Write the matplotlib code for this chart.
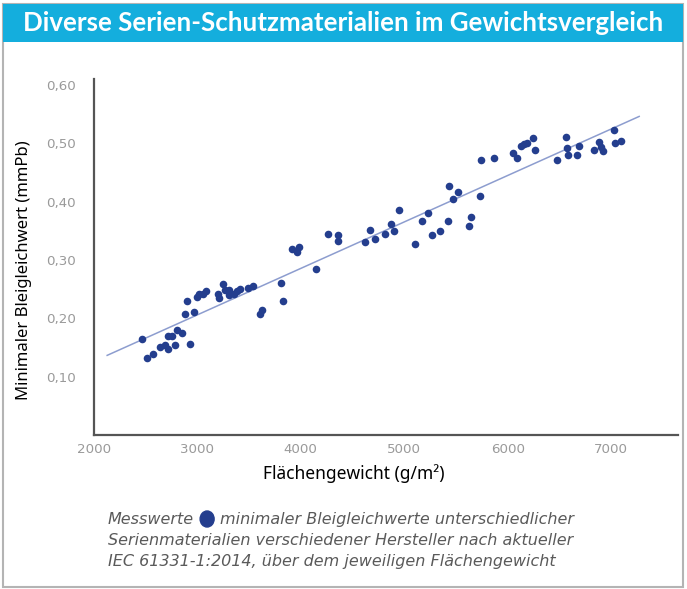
import matplotlib
matplotlib.use("Agg")
import matplotlib.pyplot as plt
import numpy as np
from matplotlib.patches import Rectangle, Ellipse
from matplotlib.ticker import FuncFormatter

TITEL = "Diverse Serien-Schutzmaterialien im Gewichtsvergleich"
X_LABEL = "Flächengewicht (g/m²)"
Y_LABEL = "Minimaler Bleigleichwert (mmPb)"
CAPTION = [
    "Serienmaterialien verschiedener Hersteller nach aktueller",
    "IEC 61331-1:2014, über dem jeweiligen Flächengewicht",
]

gewicht = [
    2467, 2512, 2570, 2641, 2689, 2715, 2715, 2759, 2786, 2805,
    2850, 2928, 2885, 2972, 2904, 2995, 3020, 3059, 3088, 3204,
    3214, 3252, 3269, 3310, 3310, 3356, 3385, 3411, 3494, 3536,
    3610, 3629, 3813, 3832, 3916, 3961, 3986, 4151, 4267, 4363,
    4363, 4621, 4672, 4718, 4812, 4872, 4904, 4947, 5107, 5172,
    5230, 5269, 5349, 5420, 5430, 5472, 5523, 5623, 5643, 5732,
    5742, 5871, 6054, 6087, 6129, 6158, 6184, 6247, 6264, 6476,
    6560, 6576, 6580, 6667, 6689, 6837, 6885, 6901, 6924, 7030,
    7037, 7098,
]
bleiwert = [
    0.164, 0.132, 0.138, 0.150, 0.154, 0.148, 0.170, 0.169, 0.154, 0.180,
    0.174, 0.156, 0.208, 0.210, 0.230, 0.236, 0.241, 0.241, 0.247, 0.241,
    0.234, 0.258, 0.248, 0.249, 0.240, 0.242, 0.246, 0.250, 0.252, 0.256,
    0.208, 0.214, 0.260, 0.230, 0.319, 0.313, 0.322, 0.284, 0.344, 0.342,
    0.333, 0.331, 0.351, 0.336, 0.344, 0.361, 0.349, 0.386, 0.327, 0.367,
    0.381, 0.342, 0.349, 0.366, 0.427, 0.405, 0.416, 0.358, 0.373, 0.410,
    0.472, 0.474, 0.483, 0.475, 0.495, 0.499, 0.500, 0.509, 0.489, 0.472,
    0.510, 0.492, 0.480, 0.480, 0.495, 0.488, 0.502, 0.493, 0.486, 0.522,
    0.501, 0.504,
]

# Bereich der Trendlinie (g/m2)
trend_bereich = [2130, 7270]
x_ticks = [2000, 3000, 4000, 5000, 6000, 7000]
y_ticks = [0.1, 0.2, 0.3, 0.4, 0.5, 0.6]

PUNKT = "#243E8E"
BANNER = "#14AEDD"

W, H = 687, 589
fig = plt.figure(figsize=(W / 100, H / 100), dpi=100)
fig.patch.set_facecolor("white")

# Rahmen und Titelbalken
fig.add_artist(Rectangle((3 / W, 2 / H), 680 / W, 583 / H, transform=fig.transFigure,
                         facecolor="none", edgecolor="#b4b4b4", linewidth=1.5, zorder=5))
fig.add_artist(Rectangle((3 / W, 1 - 42 / H), 680 / W, 38 / H, transform=fig.transFigure,
                         facecolor=BANNER, edgecolor="none", zorder=5))
fig.text(0.5, 1 - 23 / H, TITEL, ha="center", va="center", color="white",
         fontsize=18.6, fontweight="bold", family="Lato", zorder=6)

ax = fig.add_axes([93.7 / W, 154 / H, (678 - 93.7) / W, (510 - 154) / H])
ax.scatter(gewicht, bleiwert, s=30, color=PUNKT, linewidths=0, zorder=3)

k, d = np.polyfit(gewicht, bleiwert, 1)
tx = np.array(trend_bereich)
ax.plot(tx, k * tx + d, color="#8d9dcf", linewidth=1.1, zorder=2)

ax.set_xlim(2000, 7645)
ax.set_ylim(0, 0.61)
ax.set_xticks(x_ticks)
ax.set_yticks(y_ticks)
ax.yaxis.set_major_formatter(FuncFormatter(lambda v, p: f"{v:.2f}".replace(".", ",")))
ax.tick_params(length=0, labelsize=9.6, labelcolor="#9a9a9a")
ax.tick_params(axis="y", pad=13)
ax.tick_params(axis="x", pad=6)
for s in ["top", "right"]:
    ax.spines[s].set_visible(False)
for s in ["left", "bottom"]:
    ax.spines[s].set_color("#555555")
    ax.spines[s].set_linewidth(1.6)

ax.set_xlabel(X_LABEL, fontsize=12.5, family="Noto Sans")
ax.set_ylabel(Y_LABEL, fontsize=12, family="Noto Sans")
ax.xaxis.set_label_coords(0.4455, -0.083)
ax.yaxis.set_label_coords(-0.105, 0.4625)

# Bildunterschrift mit Punktsymbol
cap = dict(fontsize=11.5, style="italic", color="#5a5a5a", va="baseline")
x0, y1 = 108 / W, 1 - 524 / H
t1 = fig.text(x0, y1, "Messwerte", **cap)
fig.canvas.draw()
bb = t1.get_window_extent().transformed(fig.transFigure.inverted())
fig.add_artist(Ellipse((bb.x1 + 13 / W, y1 + 5 / H), 14 / W, 16 / H,
                       transform=fig.transFigure, color=PUNKT, zorder=6))
fig.text(bb.x1 + 26 / W, y1, "minimaler Bleigleichwerte unterschiedlicher", **cap)
for i, line in enumerate(CAPTION):
    fig.text(x0, y1 - (i + 1) * 21 / H, line, **cap)

fig.savefig("out.png", dpi=100)
